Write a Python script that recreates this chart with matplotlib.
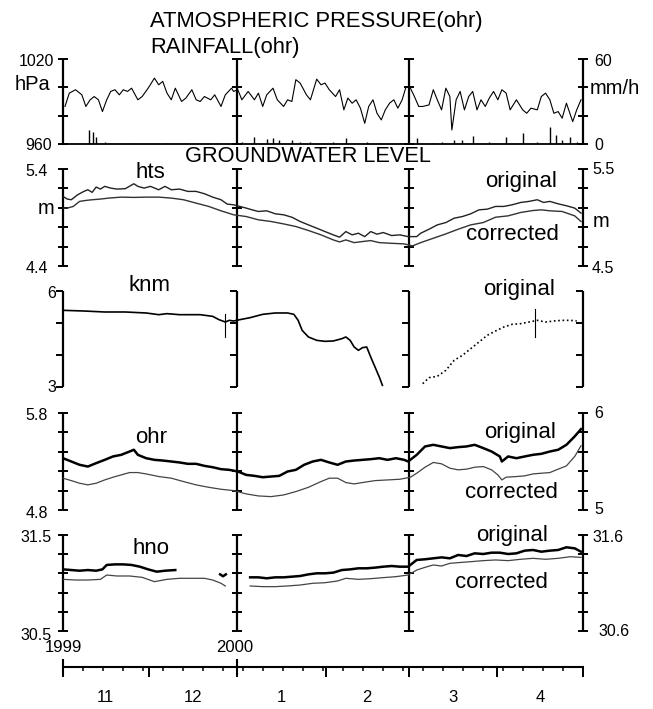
import matplotlib.pyplot as plt
import numpy as np

plt.rcParams['font.family'] = ['Liberation Sans', 'DejaVu Sans']

# days counted from 1 Nov 1999; 182 = 1 May 2000
dividers = [0, 61, 121, 182]
month_starts = [0, 30, 61, 92, 121, 152, 182]
month_labels = ['11', '12', '1', '2', '3', '4']

# atmospheric pressure (hPa) at ohr
pressure = [(0.7, 986.5), (2.2, 995.9), (4.4, 998.3), (6.6, 994.7), (8.0, 986.5), (9.5, 991.2),
            (10.9, 993.5), (12.4, 991.2), (13.8, 982.9), (15.3, 991.2), (16.7, 997.1), (18.2, 998.3),
            (19.7, 994.7), (21.1, 998.3), (22.6, 997.1), (24.0, 999.4), (26.2, 991.2), (27.7, 993.5),
            (29.8, 999.4), (32.0, 1006.5), (33.5, 1001.8), (34.9, 1004.2), (36.4, 995.9), (37.9, 991.2),
            (39.3, 999.4), (41.5, 990.0), (43.0, 992.4), (45.1, 998.3), (46.6, 991.2), (48.0, 990.0),
            (49.5, 993.5), (51.7, 991.2), (53.1, 994.7), (55.3, 986.5), (56.8, 994.7), (59.0, 999.4),
            (59.7, 997.1), (61.2, 998.3), (62.6, 991.2), (64.8, 997.1), (67.0, 991.2), (68.4, 995.9),
            (69.9, 986.5), (71.3, 994.7), (73.5, 999.4), (75.0, 991.2), (77.2, 986.5), (78.6, 991.2),
            (80.1, 990.0), (81.5, 1005.4), (83.0, 1003.0), (85.2, 994.7), (86.6, 991.2), (88.8, 1005.8),
            (90.3, 1001.8), (91.7, 1003.0), (93.2, 998.3), (95.4, 993.5), (96.8, 998.3), (98.3, 984.1),
            (99.7, 992.4), (101.2, 988.8), (102.6, 991.2), (104.1, 985.3), (105.6, 974.6), (107.0, 986.5),
            (108.5, 991.2), (109.9, 981.7), (111.4, 977.0), (112.8, 984.1), (114.3, 988.8), (115.8, 991.2),
            (117.2, 985.3), (118.7, 991.2), (120.1, 1000.6), (121.6, 999.4), (123.0, 993.5), (124.5, 986.5),
            (125.9, 986.5), (128.1, 987.6), (129.6, 998.3), (131.0, 991.2), (132.5, 984.1), (134.0, 999.4),
            (135.4, 993.5), (136.1, 969.9), (137.6, 991.2), (139.0, 997.1), (140.5, 984.1), (142.0, 993.5),
            (143.4, 997.1), (144.9, 984.1), (146.3, 991.2), (147.8, 986.5), (149.2, 992.4), (150.7, 997.1),
            (152.2, 991.2), (153.6, 998.3), (155.1, 995.9), (156.5, 984.1), (158.7, 991.2), (160.9, 984.1),
            (162.3, 981.7), (163.8, 985.3), (166.0, 984.1), (167.4, 993.5), (168.9, 995.9), (170.4, 991.2),
            (171.8, 981.7), (173.3, 982.9), (174.7, 978.2), (176.2, 988.8), (178.4, 975.8), (179.8, 984.1),
            (181.3, 991.2)]

# rainfall (mm/h) at ohr
rainfall = [(9.0, 9.9), (10.5, 8.7), (11.6, 5.2), (14.6, 1.7), (23.3, 1.0), (36.4, 1.0), (42.2, 1.0),
            (53.9, 1.0), (62.6, 1.7), (67.0, 5.2), (71.3, 3.3), (73.5, 4.0), (75.7, 2.8), (80.1, 2.8),
            (83.0, 1.7), (86.6, 1.7), (91.7, 1.0), (94.6, 1.7), (99.0, 4.0), (101.9, 1.0), (106.3, 1.7),
            (110.7, 1.0), (117.9, 1.0), (123.8, 4.0), (129.6, 0.5), (132.5, 1.7), (136.9, 2.8),
            (139.8, 2.8), (143.4, 5.7), (149.2, 1.7), (155.1, 5.2), (160.9, 7.6), (166.0, 1.7),
            (170.4, 11.8), (172.5, 6.4), (174.7, 2.8), (177.6, 5.2), (179.8, 1.7)]

# groundwater level (m)
hts_original = [(0.0, 5.117), (1.5, 5.090), (2.9, 5.083), (5.1, 5.134), (7.3, 5.169), (8.7, 5.186),
                (10.2, 5.159), (11.6, 5.214), (13.1, 5.193), (14.6, 5.221), (16.7, 5.203), (18.9, 5.193),
                (21.8, 5.197), (24.8, 5.248), (26.2, 5.221), (28.4, 5.203), (30.6, 5.221), (33.5, 5.186),
                (35.7, 5.221), (37.9, 5.186), (40.8, 5.193), (43.7, 5.169), (46.6, 5.169), (49.5, 5.145),
                (52.4, 5.110), (55.3, 5.083), (57.5, 5.038), (59.7, 5.031), (61.9, 5.014), (64.1, 4.997),
                (66.2, 4.979), (68.4, 4.962), (71.3, 4.969), (74.3, 4.938), (77.2, 4.928), (80.1, 4.903),
                (83.0, 4.859), (85.9, 4.824), (88.8, 4.790), (91.7, 4.755), (94.6, 4.721), (96.8, 4.697),
                (99.0, 4.755), (101.2, 4.721), (103.4, 4.738), (105.6, 4.703), (107.7, 4.755), (109.9, 4.728),
                (112.1, 4.745), (115.0, 4.714), (117.9, 4.721), (120.8, 4.703), (123.8, 4.703), (125.2, 4.738),
                (128.1, 4.779), (131.0, 4.824), (134.0, 4.848), (136.9, 4.893), (139.8, 4.910), (142.7, 4.938),
                (145.6, 4.979), (148.5, 4.986), (151.4, 5.014), (154.3, 5.014), (157.2, 5.031), (160.2, 5.055),
                (163.1, 5.066), (166.0, 5.083), (168.2, 5.055), (170.4, 5.066), (173.3, 5.041), (176.2, 5.021),
                (179.1, 4.997), (181.3, 4.945)]
hts_corrected = [(0.0, 4.997), (1.5, 4.997), (3.6, 5.014), (5.8, 5.066), (8.0, 5.076), (10.2, 5.083),
                 (13.1, 5.090), (16.0, 5.100), (20.4, 5.110), (24.8, 5.107), (29.1, 5.110), (33.5, 5.110),
                 (37.9, 5.100), (42.2, 5.083), (46.6, 5.048), (51.0, 5.014), (55.3, 4.969), (59.7, 4.928),
                 (64.1, 4.910), (68.4, 4.876), (72.8, 4.859), (77.2, 4.834), (81.5, 4.807), (85.9, 4.766),
                 (90.3, 4.721), (94.6, 4.669), (96.8, 4.648), (99.0, 4.669), (101.9, 4.641), (104.8, 4.652),
                 (107.7, 4.662), (110.7, 4.641), (115.0, 4.634), (119.4, 4.628), (122.3, 4.607), (125.2, 4.641),
                 (129.6, 4.686), (134.0, 4.731), (138.3, 4.779), (142.7, 4.824), (147.1, 4.848), (151.4, 4.903),
                 (155.8, 4.917), (160.2, 4.952), (164.5, 4.972), (167.4, 4.979), (170.4, 4.969), (174.7, 4.962),
                 (179.1, 4.917), (181.3, 4.859)]

knm_original = [(0.0, 5.396), (7.3, 5.375), (14.6, 5.344), (21.8, 5.344), (29.1, 5.313), (33.5, 5.260),
                (36.4, 5.292), (40.8, 5.260), (48.0, 5.260), (52.4, 5.208), (54.6, 5.104), (56.8, 5.031),
                (58.2, 5.083), (59.7, 5.063), (61.9, 5.104), (65.5, 5.167), (69.9, 5.271), (74.3, 5.313),
                (78.6, 5.313), (80.8, 5.271), (82.3, 5.083), (83.7, 4.771), (85.9, 4.563), (88.8, 4.458),
                (91.7, 4.427), (94.6, 4.438), (97.6, 4.510), (99.0, 4.563), (100.5, 4.458), (101.9, 4.250),
                (103.4, 4.146), (104.8, 4.229), (106.3, 4.250), (107.7, 3.938), (109.2, 3.625), (110.7, 3.313),
                (111.8, 3.052)]
knm_later = [(125.9, 3.104), (128.1, 3.292), (131.0, 3.333), (134.0, 3.521), (136.9, 3.833), (139.8, 3.990),
             (142.7, 4.198), (145.6, 4.406), (148.5, 4.615), (151.4, 4.750), (154.3, 4.875), (157.2, 4.958),
             (160.2, 4.979), (163.1, 5.031), (166.0, 5.083), (168.9, 5.031), (171.8, 5.063), (174.7, 5.083),
             (177.6, 5.083), (179.8, 5.063)]
knm_spikes = [(56.8, 5.29, 4.56), (165.3, 5.45, 4.56)]

ohr_original = [(0.0, 5.334), (2.9, 5.300), (5.8, 5.266), (8.7, 5.248), (11.6, 5.283), (14.6, 5.317),
                (17.5, 5.352), (20.4, 5.369), (23.3, 5.403), (24.8, 5.421), (26.2, 5.369), (29.1, 5.334),
                (32.0, 5.317), (34.9, 5.310), (37.9, 5.300), (40.8, 5.290), (43.7, 5.276), (46.6, 5.276),
                (49.5, 5.255), (52.4, 5.241), (55.3, 5.221), (58.2, 5.214), (61.2, 5.197), (64.1, 5.162),
                (67.0, 5.152), (69.9, 5.138), (72.8, 5.145), (75.7, 5.152), (78.6, 5.197), (81.5, 5.214),
                (84.4, 5.266), (87.4, 5.300), (90.3, 5.317), (93.2, 5.290), (96.1, 5.266), (99.0, 5.300),
                (101.9, 5.310), (104.8, 5.317), (107.7, 5.324), (110.7, 5.334), (113.6, 5.317), (116.5, 5.334),
                (119.4, 5.317), (120.8, 5.300), (123.8, 5.369), (126.7, 5.455), (129.6, 5.472), (132.5, 5.455),
                (135.4, 5.438), (138.3, 5.448), (141.2, 5.455), (144.1, 5.472), (147.1, 5.438), (150.0, 5.403),
                (152.9, 5.352), (153.6, 5.300), (155.8, 5.352), (158.7, 5.334), (161.6, 5.352), (164.5, 5.369),
                (167.4, 5.379), (170.4, 5.403), (173.3, 5.421), (176.2, 5.472), (179.1, 5.559), (181.3, 5.634)]
ohr_corrected = [(0.0, 5.128), (2.9, 5.103), (5.8, 5.076), (8.7, 5.059), (11.6, 5.076), (14.6, 5.110),
                 (17.5, 5.138), (20.4, 5.162), (23.3, 5.186), (26.2, 5.186), (29.1, 5.172), (33.5, 5.145),
                 (37.9, 5.128), (42.2, 5.093), (46.6, 5.059), (51.0, 5.034), (55.3, 5.014), (59.7, 5.000),
                 (64.1, 4.966), (68.4, 4.945), (72.8, 4.938), (77.2, 4.955), (81.5, 4.990), (85.9, 5.034),
                 (90.3, 5.093), (93.2, 5.128), (96.1, 5.128), (99.0, 5.083), (101.9, 5.069), (104.8, 5.083),
                 (109.2, 5.103), (113.6, 5.110), (117.9, 5.117), (121.6, 5.138), (123.8, 5.179), (126.7, 5.241),
                 (129.6, 5.290), (132.5, 5.276), (135.4, 5.231), (138.3, 5.214), (141.2, 5.221), (144.1, 5.241),
                 (147.1, 5.248), (150.0, 5.214), (152.2, 5.162), (153.6, 5.110), (155.1, 5.138), (158.7, 5.145),
                 (161.6, 5.152), (164.5, 5.172), (167.4, 5.179), (170.4, 5.186), (173.3, 5.221), (176.2, 5.255),
                 (179.1, 5.352), (181.3, 5.462)]

hno_original = [(0.0, 31.142), (2.9, 31.135), (5.8, 31.128), (8.7, 31.135), (11.6, 31.128), (13.8, 31.142),
                (15.3, 31.188), (18.2, 31.194), (21.1, 31.194), (24.0, 31.188), (26.9, 31.170), (29.8, 31.142),
                (32.8, 31.118), (35.7, 31.128), (39.3, 31.135), (None, None),
                (55.0, 31.09), (56.0, 31.07), (57.0, 31.09), (None, None),
                (65.5, 31.059), (68.4, 31.059), (71.3, 31.049), (74.3, 31.059), (77.2, 31.059), (80.1, 31.066),
                (83.0, 31.073), (85.9, 31.090), (88.8, 31.101), (91.7, 31.101), (94.6, 31.108), (97.6, 31.135),
                (100.5, 31.142), (103.4, 31.153), (106.3, 31.153), (109.2, 31.160), (112.1, 31.170),
                (115.0, 31.177), (117.9, 31.170), (120.8, 31.170), (123.8, 31.240), (126.7, 31.247),
                (129.6, 31.257), (132.5, 31.267), (135.4, 31.257), (138.3, 31.292), (141.2, 31.281),
                (144.1, 31.309), (147.1, 31.302), (150.0, 31.316), (152.9, 31.316), (155.8, 31.302),
                (158.7, 31.309), (161.6, 31.337), (164.5, 31.344), (167.4, 31.326), (170.4, 31.337),
                (173.3, 31.344), (176.2, 31.372), (179.1, 31.361), (181.3, 31.326)]
hno_corrected = [(0.0, 31.038), (4.4, 31.031), (8.7, 31.031), (13.1, 31.038), (15.3, 31.083), (18.9, 31.073),
                 (23.3, 31.073), (27.7, 31.059), (32.0, 31.014), (36.4, 31.038), (40.8, 31.049), (45.1, 31.049),
                 (49.5, 31.049), (52.4, 31.031), (55.3, 30.997), (56.8, 30.969), (None, None),
                 (65.5, 30.969), (69.9, 30.962), (74.3, 30.962), (78.6, 30.969), (83.0, 30.979), (87.4, 30.997),
                 (91.7, 31.003), (96.1, 31.021), (99.0, 31.049), (103.4, 31.038), (107.7, 31.045),
                 (112.1, 31.056), (116.5, 31.066), (120.8, 31.083), (123.8, 31.135), (126.7, 31.163),
                 (129.6, 31.188), (132.5, 31.177), (135.4, 31.205), (138.3, 31.212), (142.7, 31.222),
                 (147.1, 31.233), (151.4, 31.240), (155.8, 31.233), (160.2, 31.247), (164.5, 31.257),
                 (168.9, 31.247), (173.3, 31.257), (177.6, 31.274), (181.3, 31.267)]


def xy(pairs):
    x = [np.nan if p[0] is None else p[0] for p in pairs]
    y = [np.nan if p[1] is None else p[1] for p in pairs]
    return x, y


W, H = 653, 709
fig = plt.figure(figsize=(W / 100, H / 100), dpi=100)


def fx(px):
    return px / W


def fy(py):
    return 1 - py / H


def panel(top, bottom, lo, hi, ticks, cross=True):
    ax = fig.add_axes([fx(63), fy(bottom), fx(583) - fx(63), fy(top) - fy(bottom)])
    ax.set_xlim(0, 182)
    ax.set_ylim(lo, hi)
    ax.axis('off')
    for d in dividers:
        ax.plot([d, d], [lo, hi], color='k', lw=1.6, solid_capstyle='butt', clip_on=False)
        ax.plot([d] * len(ticks), ticks, ls='none', marker='_' if cross else 0,
                ms=7 if cross else 5, mew=1.4, color='k', clip_on=False)
    return ax


def txt(x, y, s, size=16, ha='left'):
    fig.text(fx(x), fy(y), s, fontsize=size, ha=ha, va='center')


# pressure / rainfall
ax1 = panel(59, 144, 960, 1020, [1020, 1000, 980, 960])
ax1.plot([0, 182], [960, 960], color='k', lw=1.3, clip_on=False)
ax1.plot(*xy(pressure), color='k', lw=0.8)
ax1r = ax1.twinx()
ax1r.set_ylim(0, 60)
ax1r.axis('off')
rd, rv = xy(rainfall)
ax1r.vlines(rd, 0, rv, color='k', lw=1.0)

# hts
ax2 = panel(169, 266, 4.4, 5.4, np.arange(4.4, 5.41, 0.2))
ax2.plot(*xy(hts_original), color='#222', lw=1.0)
ax2.plot(*xy(hts_corrected), color='#333', lw=1.0)

# knm
ax3 = panel(291, 387, 3, 6, [3, 4, 5, 6], cross=False)
ax3.plot(*xy(knm_original), color='k', lw=1.2)
ax3.plot(*xy(knm_later), color='k', lw=1.2, ls=(0, (1, 1.6)))
for d, a, b in knm_spikes:
    ax3.plot([d, d], [a, b], color='k', lw=0.8)

# ohr
ax4 = panel(413, 510, 4.8, 5.8, np.arange(4.8, 5.81, 0.2))
ax4.plot(*xy(ohr_original), color='k', lw=1.8)
ax4.plot(*xy(ohr_corrected), color='#444', lw=0.9)

# hno
ax5 = panel(535, 631, 30.5, 31.5, np.arange(30.5, 31.51, 0.2))
ax5.plot(*xy(hno_original), color='k', lw=1.8)
ax5.plot(*xy(hno_corrected), color='#444', lw=0.9)

# time axis
axt = fig.add_axes([fx(63), fy(680), fx(583) - fx(63), fy(654) - fy(680)])
axt.set_xlim(0, 182)
axt.set_ylim(-1, 1)
axt.axis('off')
axt.plot([0, 182], [0, 0], color='k', lw=1.5, clip_on=False)
axt.plot(range(0, 183, 7), [0] * len(range(0, 183, 7)), ls='none', marker=3, ms=3, mew=1.1, color='k')
axt.plot(month_starts, [0] * len(month_starts), ls='none', marker=3, ms=7, mew=1.4, color='k', clip_on=False)
axt.plot([0, 61], [0, 0], ls='none', marker='|', ms=12, mew=1.5, color='k', clip_on=False)
for i, lab in enumerate(month_labels):
    mid = (month_starts[i] + month_starts[i + 1]) / 2
    fig.text(fx(63 + mid * 520 / 182), fy(697), lab, fontsize=12, ha='center', va='center')

# texts
txt(150, 22, 'ATMOSPHERIC PRESSURE(ohr)', 15.8)
txt(150, 47, 'RAINFALL(ohr)', 15.8)
txt(54, 62, '1020', 11.5, 'right')
txt(52, 146, '960', 11.5, 'right')
txt(50, 85, 'hPa', 14.5, 'right')
txt(594, 62, '60', 11.5)
txt(594, 146, '0', 11.5)
txt(590, 89, 'mm/h', 14.5)

txt(308, 157, 'GROUNDWATER LEVEL', 15.7, 'center')
txt(48, 172, '5.4', 11.5, 'right')
txt(48, 268, '4.4', 11.5, 'right')
txt(54, 209, 'm', 14.5, 'right')
txt(592, 169, '5.5', 11.5)
txt(592, 268, '4.5', 11.5)
txt(593, 222, 'm', 14.5)
txt(150, 173, 'hts', 16, 'center')
txt(521, 181, 'original', 16, 'center')
txt(512, 235, 'corrected', 16, 'center')

txt(56, 293, '6', 11.5, 'right')
txt(56, 388, '3', 11.5, 'right')
txt(150, 285, 'knm', 16, 'center')
txt(519, 290, 'original', 16, 'center')

txt(48, 416, '5.8', 11.5, 'right')
txt(48, 513, '4.8', 11.5, 'right')
txt(594, 414, '6', 11.5)
txt(594, 510, '5', 11.5)
txt(151, 437, 'ohr', 16, 'center')
txt(520, 432, 'original', 16, 'center')
txt(511, 493, 'corrected', 16, 'center')

txt(52, 538, '31.5', 11.5, 'right')
txt(52, 635, '30.5', 11.5, 'right')
txt(592, 538, '31.6', 11.5)
txt(598, 632, '30.6', 11.5)
txt(151, 548, 'hno', 16, 'center')
txt(512, 535, 'original', 16, 'center')
txt(501, 582, 'corrected', 16, 'center')

txt(63, 648, '1999', 12, 'center')
txt(235, 648, '2000', 12, 'center')

fig.savefig('out.png', dpi=100)
